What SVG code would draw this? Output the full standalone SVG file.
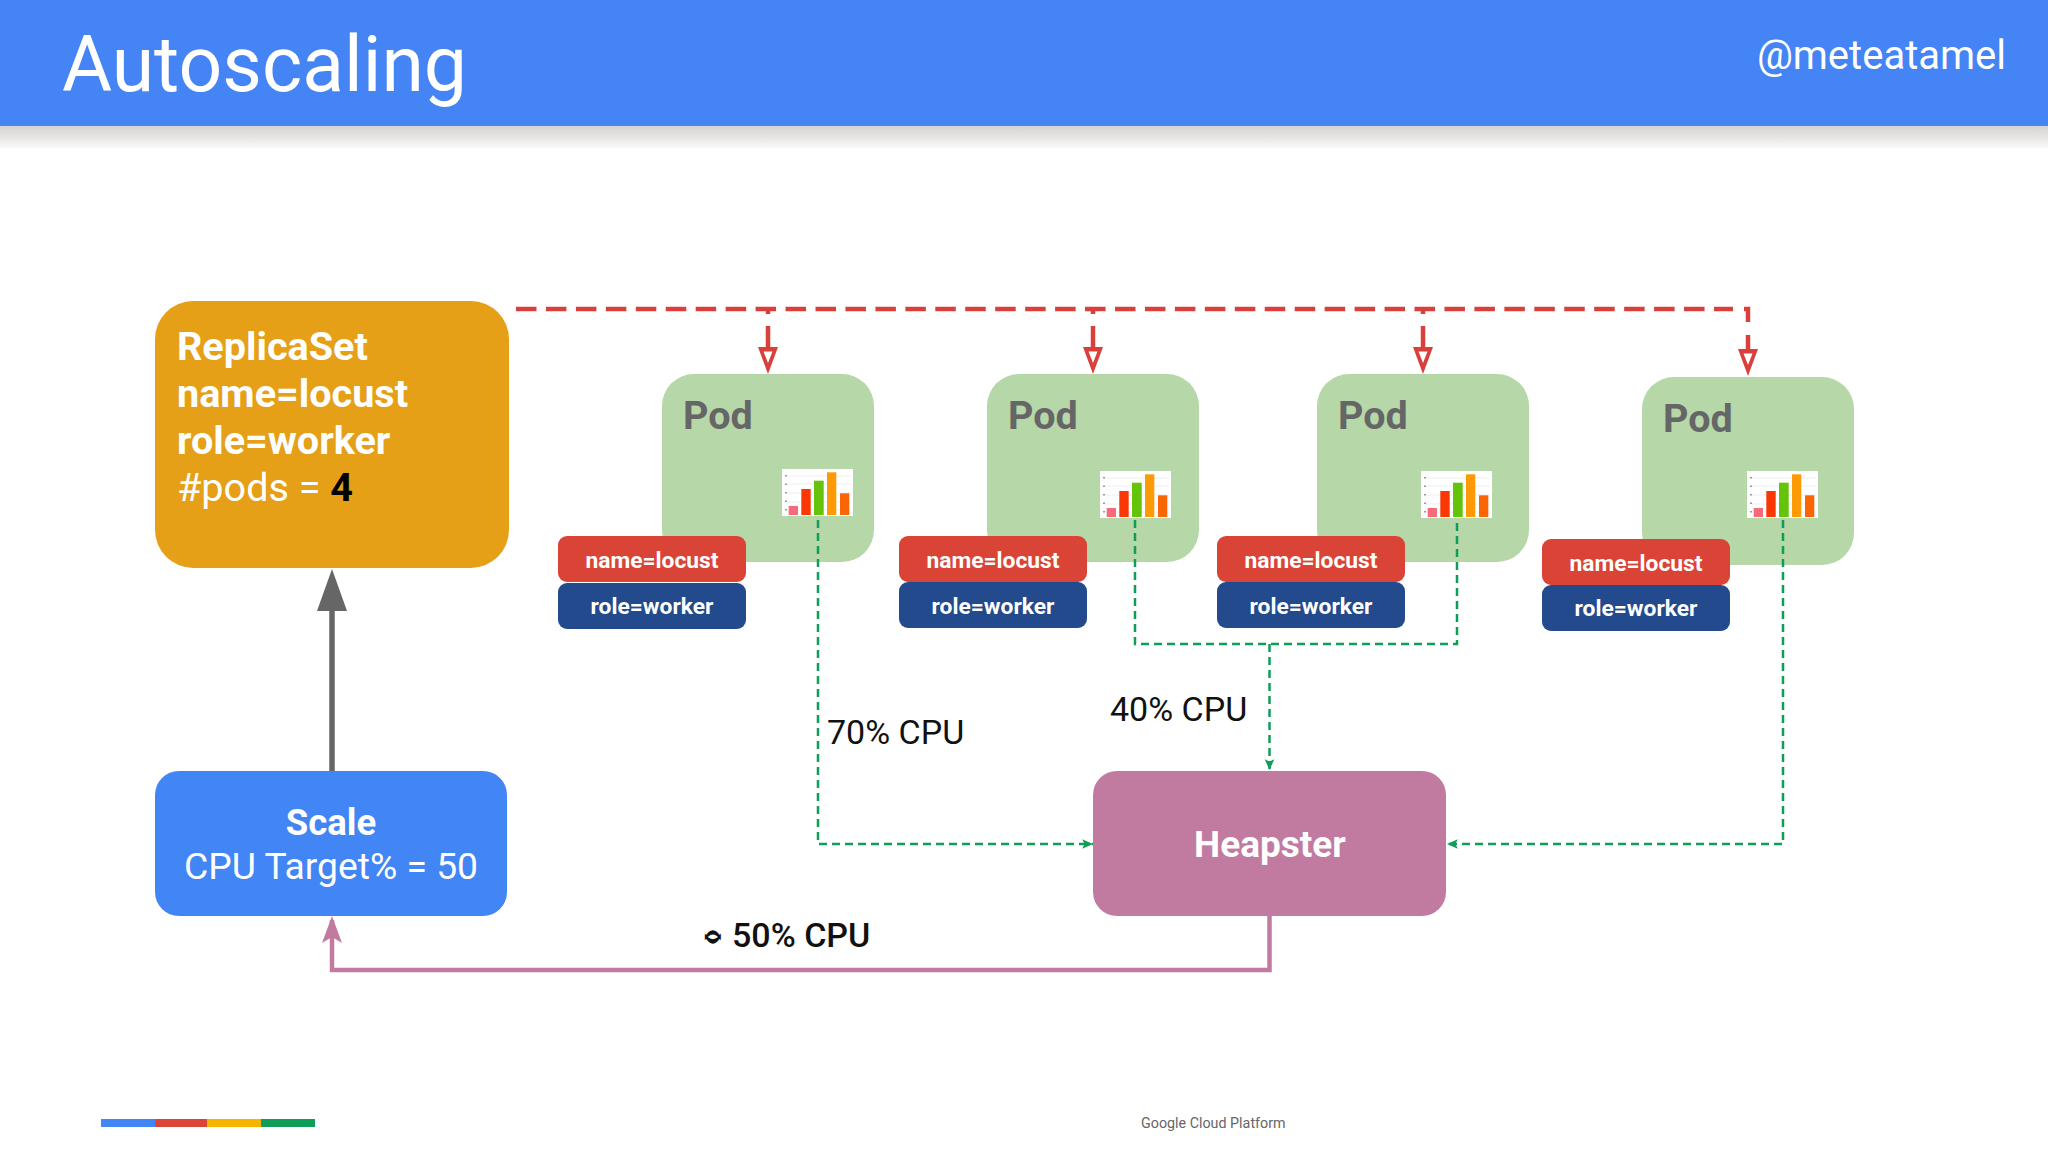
<svg xmlns="http://www.w3.org/2000/svg" width="2048" height="1152" viewBox="0 0 2048 1152">
<style>
text{font-family:Roboto,"Liberation Sans",sans-serif}
.w{fill:#fff}
.pod{fill:#b6d7a8}
.podt{fill:#666;font-size:39.500px;font-weight:700}
.nm{fill:#da4436}
.rl{fill:#234a8c}
.lb{fill:#fff;font-size:22.800px;font-weight:700;text-anchor:middle}
.red{fill:none;stroke:#d9403c;stroke-width:4.500;stroke-dasharray:20.500 9.450}
.redv{fill:none;stroke:#d9403c;stroke-width:4.500}
.grn{fill:none;stroke:#0f9d58;stroke-width:2.500;stroke-dasharray:8 5}
.cpu{font-size:34px;fill:#111}
</style>
<defs>
<linearGradient id="sh" x1="0" y1="0" x2="0" y2="1"><stop offset="0" stop-color="#d4d3d0"/><stop offset=".45" stop-color="#e4e3e1"/><stop offset="1" stop-color="#f9f9f9"/></linearGradient>
<marker id="ra" markerUnits="userSpaceOnUse" markerWidth="27" markerHeight="20" refX="0" refY="10" orient="auto" viewBox="0 0 27 20"><path d="M0 0L27 10L0 20ZM4.500 5.500L4.500 14.500L16 10Z" fill="#d9403c" fill-rule="evenodd"/></marker>
<marker id="ga" markerUnits="userSpaceOnUse" markerWidth="12" markerHeight="12" refX="9" refY="5" orient="auto" viewBox="0 0 10 10"><path d="M0 1L9 5L0 9L2 5Z" fill="#0f9d58"/></marker>
<g id="chart">
<rect width="71" height="47" fill="#fff"/>
<path d="M5 7H69M5 15H69M5 24H69M5 33H69M5 41H69" stroke="#eee" stroke-width="1"/>
<path d="M4 6V45" stroke="#777" stroke-width="1.500" stroke-dasharray="1.500 7"/>
<rect x="6.700" y="37" width="9.300" height="9" fill="#f66a7a"/>
<rect x="19.300" y="20" width="9.400" height="26" fill="#f93806"/>
<rect x="32" y="11.700" width="9.700" height="34.300" fill="#65c40a"/>
<rect x="45" y="3.300" width="9.300" height="42.700" fill="#fd9a05"/>
<rect x="58" y="24.300" width="9.300" height="21.700" fill="#fb6604"/>
</g>
</defs>
<rect width="2048" height="1152" fill="#fff"/>
<g id="header">
<rect y="126" width="2048" height="22" fill="url(#sh)"/>
<rect width="2048" height="126" fill="#4484f5"/>
<text x="62" y="91" class="w" font-size="78" font-weight="400" textLength="405" lengthAdjust="spacingAndGlyphs">Autoscaling</text>
<text x="2006" y="69" class="w" font-size="40" font-weight="400" text-anchor="end">@meteatamel</text>
</g>
<g id="replicaset">
<rect x="155" y="301" width="354" height="267" rx="38" fill="#e5a017"/>
<g class="w" font-size="39.600">
<text x="177" y="360" font-weight="700">ReplicaSet</text>
<text x="177" y="407" font-weight="700">name=locust</text>
<text x="177" y="454" font-weight="700">role=worker</text>
<text x="177" y="501" font-weight="400">#pods = <tspan font-weight="700" fill="#000">4</tspan></text>
</g>
</g>
<g id="scale">
<rect x="155" y="771" width="352" height="145" rx="24" fill="#4285f4"/>
<text x="331" y="835" class="w" font-size="36.500" font-weight="700" text-anchor="middle">Scale</text>
<text x="184" y="879" class="w" font-size="36" font-weight="400" textLength="294" lengthAdjust="spacingAndGlyphs">CPU Target% = 50</text>
</g>
<g id="heapster">
<rect x="1093" y="771" width="353" height="145" rx="24" fill="#c27ba0"/>
<text x="1270" y="857" class="w" font-size="37" font-weight="700" text-anchor="middle">Heapster</text>
</g>
<g id="pod1">
<rect x="662" y="374" width="212" height="188" rx="32" class="pod"/>
<text x="683" y="429" class="podt">Pod</text>
<use href="#chart" x="782" y="469"/>
<rect x="558" y="536" width="188" height="46" rx="9" class="nm"/>
<rect x="558" y="583" width="188" height="46" rx="9" class="rl"/>
<text x="652" y="568" class="lb">name=locust</text>
<text x="652" y="614" class="lb">role=worker</text>
</g>
<g id="pod2">
<rect x="987" y="374" width="212" height="188" rx="32" class="pod"/>
<text x="1008" y="429" class="podt">Pod</text>
<use href="#chart" x="1100" y="471"/>
<rect x="899" y="536" width="188" height="46" rx="9" class="nm"/>
<rect x="899" y="582" width="188" height="46" rx="9" class="rl"/>
<text x="993" y="568" class="lb">name=locust</text>
<text x="993" y="614" class="lb">role=worker</text>
</g>
<g id="pod3">
<rect x="1317" y="374" width="212" height="188" rx="32" class="pod"/>
<text x="1338" y="429" class="podt">Pod</text>
<use href="#chart" x="1421" y="471"/>
<rect x="1217" y="536" width="188" height="46" rx="9" class="nm"/>
<rect x="1217" y="582" width="188" height="46" rx="9" class="rl"/>
<text x="1311" y="568" class="lb">name=locust</text>
<text x="1311" y="614" class="lb">role=worker</text>
</g>
<g id="pod4">
<rect x="1642" y="377" width="212" height="188" rx="32" class="pod"/>
<text x="1663" y="432" class="podt">Pod</text>
<use href="#chart" x="1747" y="471"/>
<rect x="1542" y="539" width="188" height="46" rx="9" class="nm"/>
<rect x="1542" y="585" width="188" height="46" rx="9" class="rl"/>
<text x="1636" y="571" class="lb">name=locust</text>
<text x="1636" y="616" class="lb">role=worker</text>
</g>
<g id="connectors">
<path class="red" d="M516 309H1733"/>
<path class="redv" d="M768 309V314M768 326V347" marker-end="url(#ra)"/>
<path class="redv" d="M1093 309V314M1093 326V347" marker-end="url(#ra)"/>
<path class="redv" d="M1423 309V314M1423 326V347" marker-end="url(#ra)"/>
<path class="redv" d="M1744 309H1748V322M1748 335V349" marker-end="url(#ra)"/>
<path class="grn" d="M818 520V844H1093" marker-end="url(#ga)"/>
<path class="grn" d="M1135 520V644H1457V520"/>
<path class="grn" d="M1269.500 644V770" marker-end="url(#ga)"/>
<path class="grn" d="M1783 520V844H1447" marker-end="url(#ga)"/>
<path d="M332 771V600" fill="none" stroke="#666" stroke-width="5.500"/>
<path d="M332 569L347 611H317Z" fill="#666"/>
<path d="M1269.500 916V970H332V920" fill="none" stroke="#c27ba0" stroke-width="4.500"/>
<path d="M332 916L342 943L332 937L322 943Z" fill="#c27ba0"/>
</g>
<g id="labels">
<text x="827" y="744" class="cpu">70% CPU</text>
<text x="1110" y="721" class="cpu">40% CPU</text>
<text transform="translate(713.500 937) rotate(90) scale(2.200 .85)" font-size="21" font-weight="400" fill="#111" text-anchor="middle" dominant-baseline="central" style="font-family:'DejaVu Sans',sans-serif">≬</text>
<text x="732" y="947" class="cpu" font-weight="500">50% CPU</text>
</g>
<g id="footer">
<rect x="101" y="1119" width="55" height="8" fill="#4285f4"/>
<rect x="155" y="1119" width="52" height="8" fill="#db4437"/>
<rect x="207" y="1119" width="54" height="8" fill="#f4b400"/>
<rect x="261" y="1119" width="54" height="8" fill="#0f9d58"/>
<text x="1141" y="1128" font-size="14.300" fill="#666">Google Cloud Platform</text>
</g>
</svg>
